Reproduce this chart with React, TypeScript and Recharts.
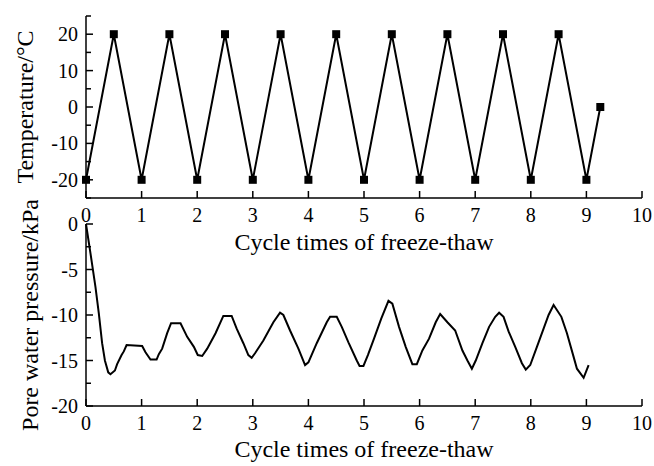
import { Line, LineChart, XAxis, YAxis } from "recharts";

const FONT = '"Liberation Serif", "Times New Roman", serif';

const cycleTicks = [0, 1, 2, 3, 4, 5, 6, 7, 8, 9, 10];
const tempTicks = [-25, -20, -15, -10, -5, 0, 5, 10, 15, 20, 25];
const tempLabels = [-20, -10, 0, 10, 20];
const poreTicks = [-20, -17.5, -15, -12.5, -10, -7.5, -5, -2.5, 0];
const poreLabels = [-20, -15, -10, -5, 0];

// temperature program: -20 / +20 every half cycle
const tempCycle = [0, 0.5, 1, 1.5, 2, 2.5, 3, 3.5, 4, 4.5, 5, 5.5, 6, 6.5, 7, 7.5, 8, 8.5, 9, 9.25];
const tempValue = [-20, 20, -20, 20, -20, 20, -20, 20, -20, 20, -20, 20, -20, 20, -20, 20, -20, 20, -20, 0];

// pore water pressure
const poreCycle = [
  0, 0.08, 0.17, 0.23, 0.29, 0.34, 0.4, 0.44, 0.52, 0.56, 0.64, 0.68, 0.73,
  1.01, 1.07, 1.16, 1.27, 1.31, 1.37, 1.46, 1.53, 1.7, 1.82, 1.94,
  2.01, 2.09, 2.18, 2.33, 2.47, 2.62, 2.71, 2.83, 2.92, 2.98,
  3.04, 3.19, 3.37, 3.49, 3.55, 3.67, 3.82, 3.94,
  4.0, 4.15, 4.33, 4.39, 4.51, 4.6, 4.72, 4.87, 4.92, 4.99,
  5.07, 5.18, 5.31, 5.44, 5.51, 5.63, 5.75, 5.87, 5.95,
  6.05, 6.17, 6.29, 6.37, 6.5, 6.64, 6.77, 6.86, 6.94,
  7.01, 7.13, 7.25, 7.36, 7.43, 7.51, 7.6, 7.72, 7.84, 7.91, 7.99,
  8.11, 8.23, 8.32, 8.41, 8.55, 8.65, 8.77, 8.83, 8.95, 9.04,
];
const poreValue = [
  0, -3.2, -6.9, -9.8, -13.1, -15.0, -16.3, -16.5, -16.1, -15.4, -14.4, -14.0, -13.3,
  -13.4, -14.1, -14.9, -14.9, -14.3, -13.7, -12.0, -10.9, -10.9, -12.4, -13.5,
  -14.4, -14.5, -13.7, -12.0, -10.1, -10.1, -11.5, -13.1, -14.4, -14.7,
  -14.2, -12.8, -10.8, -9.75, -10.0, -11.7, -13.7, -15.5,
  -15.2, -13.1, -10.8, -10.2, -10.2, -11.3, -13.0, -15.0, -15.6, -15.6,
  -14.4, -12.6, -10.4, -8.45, -8.75, -11.3, -13.5, -15.4, -15.4,
  -13.9, -12.6, -10.8, -9.9, -10.8, -11.7, -13.9, -15.0, -15.9,
  -15.0, -13.1, -11.3, -10.2, -9.75, -10.2, -11.8, -13.5, -15.3, -16.0, -15.5,
  -13.5, -11.5, -10.0, -8.9, -10.2, -12.0, -14.6, -15.9, -16.9, -15.5,
];

const tempData = tempCycle.map((x, i) => ({ x, t: tempValue[i] }));
const poreData = poreCycle.map((x, i) => ({ x, p: poreValue[i] }));

const XTick = ({ x, y, payload }: any) => (
  <g>
    <line x1={x} y1={y} x2={x} y2={y - 7} stroke="#000" strokeWidth={1.5} />
    <text x={x} y={y + 24} textAnchor="middle" fontSize={20} fill="#000" fontFamily={FONT}>
      {payload.value}
    </text>
  </g>
);

const makeYTick = (labels: number[]) => ({ x, y, payload }: any) => {
  const major = labels.includes(payload.value);
  return (
    <g>
      <line x1={x} y1={y} x2={x + (major ? 7 : 5)} y2={y} stroke="#000" strokeWidth={1.5} />
      {major && (
        <text x={x - 8} y={y} dy="0.35em" textAnchor="end" fontSize={20} fill="#000" fontFamily={FONT}>
          {payload.value}
        </text>
      )}
    </g>
  );
};

const xTitle = (text: string, dy: number) => ({ viewBox }: any) => (
  <text x={viewBox.x + viewBox.width / 2} y={viewBox.y + dy} textAnchor="middle" fontSize={24} fill="#000" fontFamily={FONT}>
    {text}
  </text>
);

const yTitle = (text: string, cx: number) => ({ viewBox }: any) => {
  const cy = viewBox.y + viewBox.height / 2;
  return (
    <text x={cx} y={cy} dy="0.35em" transform={`rotate(-90 ${cx} ${cy})`} textAnchor="middle" fontSize={24} fill="#000" fontFamily={FONT}>
      {text}
    </text>
  );
};

const SquareDot = ({ cx, cy, index }: any) => (
  <rect key={index} x={cx - 4} y={cy - 4} width={8} height={8} fill="#000" />
);

const axisLine = { stroke: "#000", strokeWidth: 1.5 };

export default function App() {
  return (
    <div style={{ position: "absolute", left: 0, top: 0, width: 654, height: 466, background: "#fff", fontFamily: FONT }}>
      <div style={{ position: "absolute", left: 0, top: 0 }}>
        <LineChart width={654} height={260} data={tempData} margin={{ top: 16, right: 12, bottom: 0, left: 0 }}>
          <XAxis
            type="number"
            dataKey="x"
            domain={[0, 10]}
            ticks={cycleTicks}
            interval={0}
            height={62}
            tickSize={0}
            tickMargin={0}
            tickLine={false}
            axisLine={axisLine}
            tick={<XTick />}
            label={xTitle("Cycle times of freeze-thaw", 52)}
          />
          <YAxis
            type="number"
            domain={[-25, 25]}
            ticks={tempTicks}
            interval={0}
            width={86}
            tickSize={0}
            tickMargin={0}
            tickLine={false}
            axisLine={axisLine}
            tick={makeYTick(tempLabels)}
            label={yTitle("Temperature/°C", 25)}
          />
          <Line
            dataKey="t"
            type="linear"
            stroke="#000"
            strokeWidth={2}
            dot={SquareDot}
            activeDot={false}
            isAnimationActive={false}
          />
        </LineChart>
      </div>
      <div style={{ position: "absolute", left: 0, top: 200 }}>
        <LineChart width={654} height={266} data={poreData} margin={{ top: 24, right: 12, bottom: 0, left: 0 }}>
          <XAxis
            type="number"
            dataKey="x"
            domain={[0, 10]}
            ticks={cycleTicks}
            interval={0}
            height={60}
            tickSize={0}
            tickMargin={0}
            tickLine={false}
            axisLine={axisLine}
            tick={<XTick />}
            label={xTitle("Cycle times of freeze-thaw", 51)}
          />
          <YAxis
            type="number"
            domain={[-20, 0]}
            ticks={poreTicks}
            interval={0}
            width={86}
            tickSize={0}
            tickMargin={0}
            tickLine={false}
            axisLine={axisLine}
            tick={makeYTick(poreLabels)}
            label={yTitle("Pore water pressure/kPa", 30)}
          />
          <Line
            dataKey="p"
            type="linear"
            stroke="#000"
            strokeWidth={2}
            dot={false}
            activeDot={false}
            isAnimationActive={false}
          />
        </LineChart>
      </div>
    </div>
  );
}
